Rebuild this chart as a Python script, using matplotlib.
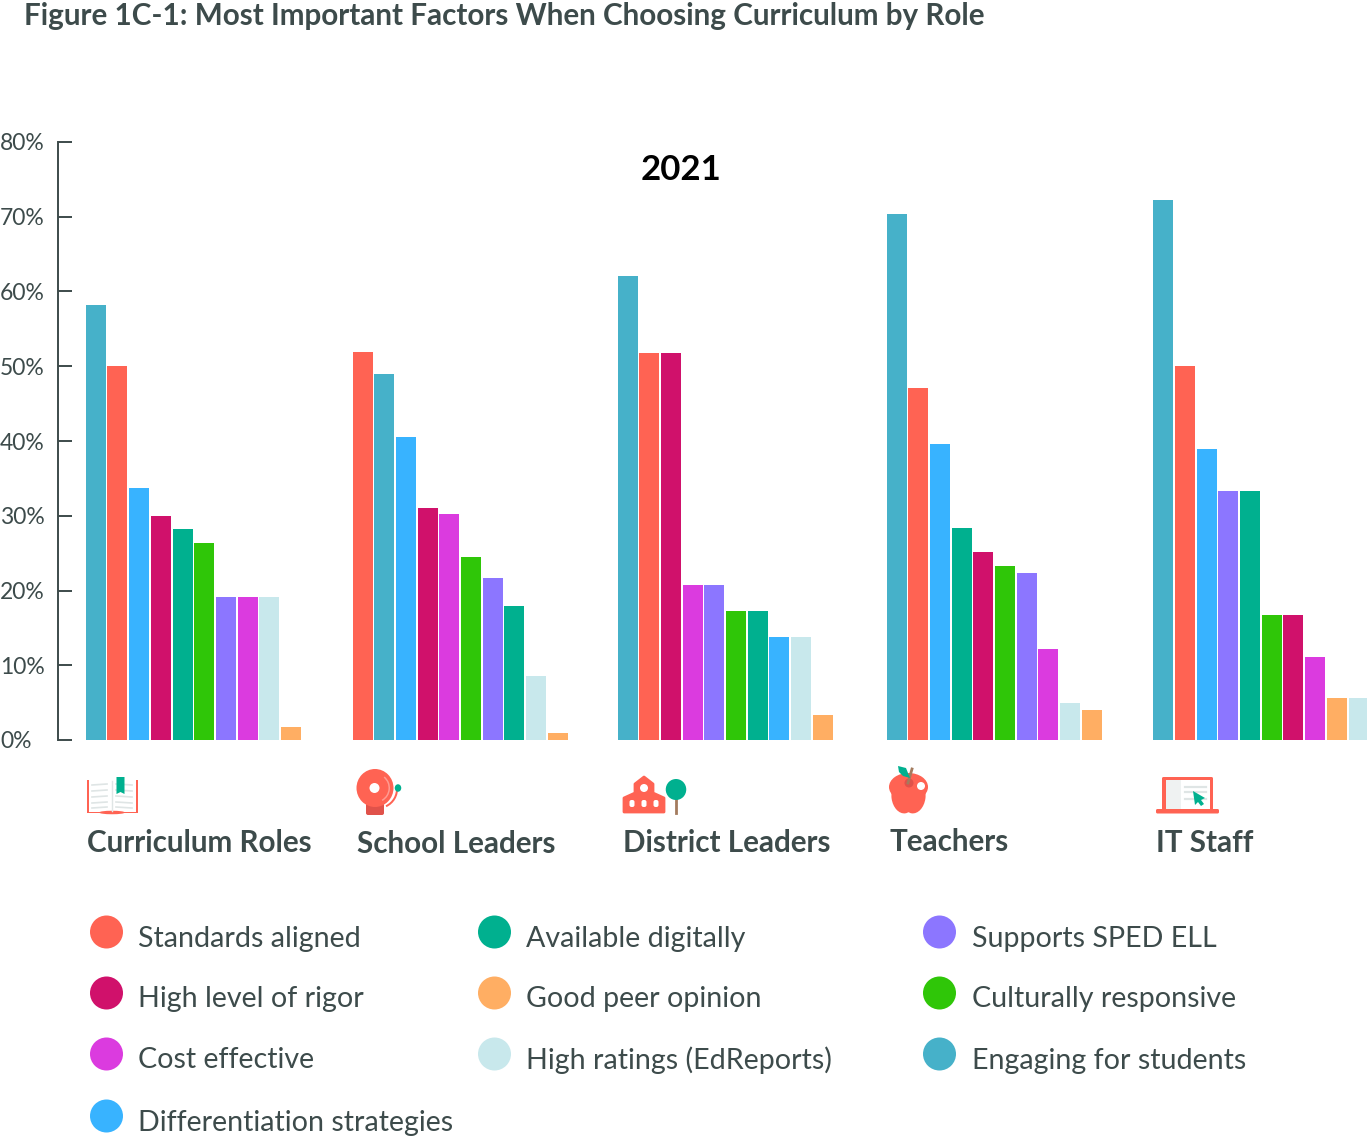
import matplotlib

matplotlib.use("Agg")
import matplotlib.pyplot as plt
from matplotlib.patches import Circle, Ellipse, FancyBboxPatch, Polygon, Rectangle, Wedge

W, H = 1367, 1142
TEXT = "#3d4b4b"

roles = ["Curriculum Roles", "School Leaders", "District Leaders", "Teachers", "IT Staff"]

colors = {
    "Standards aligned": "#ff6353",
    "High level of rigor": "#d0116b",
    "Cost effective": "#db3bdf",
    "Differentiation strategies": "#38b3ff",
    "Available digitally": "#00b08f",
    "Good peer opinion": "#ffae63",
    "High ratings (EdReports)": "#c8e8ec",
    "Supports SPED ELL": "#8c76ff",
    "Culturally responsive": "#2fc608",
    "Engaging for students": "#46b1c9",
}

curriculum_factors = ["Engaging for students", "Standards aligned", "Differentiation strategies",
                      "High level of rigor", "Available digitally", "Culturally responsive",
                      "Supports SPED ELL", "Cost effective", "High ratings (EdReports)", "Good peer opinion"]
curriculum_values = [58.2, 50.0, 33.7, 30.0, 28.2, 26.4, 19.1, 19.1, 19.1, 1.8]

school_factors = ["Standards aligned", "Engaging for students", "Differentiation strategies",
                  "High level of rigor", "Cost effective", "Culturally responsive",
                  "Supports SPED ELL", "Available digitally", "High ratings (EdReports)", "Good peer opinion"]
school_values = [51.9, 49.0, 40.6, 31.1, 30.2, 24.5, 21.7, 17.9, 8.5, 0.9]

district_factors = ["Engaging for students", "Standards aligned", "High level of rigor",
                    "Cost effective", "Supports SPED ELL", "Culturally responsive",
                    "Available digitally", "Differentiation strategies", "High ratings (EdReports)", "Good peer opinion"]
district_values = [62.1, 51.8, 51.8, 20.7, 20.7, 17.2, 17.2, 13.8, 13.8, 3.4]

teacher_factors = ["Engaging for students", "Standards aligned", "Differentiation strategies",
                   "Available digitally", "High level of rigor", "Culturally responsive",
                   "Supports SPED ELL", "Cost effective", "High ratings (EdReports)", "Good peer opinion"]
teacher_values = [70.4, 47.1, 39.6, 28.3, 25.2, 23.3, 22.3, 12.2, 5.0, 4.0]

it_factors = ["Engaging for students", "Standards aligned", "Differentiation strategies",
              "Supports SPED ELL", "Available digitally", "Culturally responsive",
              "High level of rigor", "Cost effective", "Good peer opinion", "High ratings (EdReports)"]
it_values = [72.2, 50.0, 38.9, 33.3, 33.3, 16.7, 16.7, 11.1, 5.6, 5.6]

y_ticks = [0, 10, 20, 30, 40, 50, 60, 70, 80]

# legend is laid out column by column
legend_columns = [
    ["Standards aligned", "High level of rigor", "Cost effective", "Differentiation strategies"],
    ["Available digitally", "Good peer opinion", "High ratings (EdReports)"],
    ["Supports SPED ELL", "Culturally responsive", "Engaging for students"],
]

plt.rcParams["font.family"] = ["Lato", "DejaVu Sans"]

fig = plt.figure(figsize=(W / 100, H / 100), dpi=100)

# overlay in pixel coordinates for icons, labels and legend
page = fig.add_axes([0, 0, 1, 1])
page.set_xlim(0, W)
page.set_ylim(H, 0)
page.axis("off")

# chart axes, x in pixels so the groups sit where the original has them
top, bottom, left = 142, 740, 58
ax = fig.add_axes([left / W, 1 - bottom / H, (W - left) / W, (bottom - top) / H])
ax.patch.set_alpha(0)
ax.set_xlim(left, W)
ax.set_ylim(0, 80)

group_starts = [85.7, 352.5, 617.5, 886.5, 1153.2]
bar_step = 21.7
bar_width = 20

groups = [
    (curriculum_factors, curriculum_values),
    (school_factors, school_values),
    (district_factors, district_values),
    (teacher_factors, teacher_values),
    (it_factors, it_values),
]
for start, (factors, values) in zip(group_starts, groups):
    xs = [start + i * bar_step for i in range(len(values))]
    ax.bar(xs, values, width=bar_width, align="edge", color=[colors[f] for f in factors], linewidth=0)

for side in ["top", "right", "bottom"]:
    ax.spines[side].set_visible(False)
ax.spines["left"].set_color(TEXT)
ax.spines["left"].set_linewidth(1.4)
ax.set_xticks([])
ax.set_yticks(y_ticks)
ax.set_yticklabels([f"{t}%" for t in y_ticks], fontsize=16.5, color=TEXT, ha="left")
ax.tick_params(axis="y", direction="in", length=10, width=1.4, color=TEXT, pad=0)
for label in ax.get_yticklabels():
    label.set_x(-58 / (W - left))

page.text(24, 16, "Figure 1C-1: Most Important Factors When Choosing Curriculum by Role",
          fontsize=21.3, fontweight="bold", color=TEXT, va="center", ha="left")
page.text(681, 170, "2021", fontsize=25, fontweight="bold", color="#000000", va="center", ha="center")

role_label_pos = [(87, 843), (357, 844), (623, 843), (890, 842), (1156, 843)]
for role, (x, y) in zip(roles, role_label_pos):
    page.text(x, y, role, fontsize=21.3, fontweight="bold", color=TEXT, va="center", ha="left")


def draw_book(a):
    # red edges on the sides and bottom only
    a.add_patch(Rectangle((87, 780), 1.5, 33, facecolor="#ff6353", edgecolor="none"))
    a.add_patch(Rectangle((136, 780), 1.5, 33, facecolor="#ff6353", edgecolor="none"))
    a.add_patch(Rectangle((87, 811.5), 50.5, 1.5, facecolor="#ff6353", edgecolor="none"))
    a.add_patch(Ellipse((112, 812.5), 26, 3.5, facecolor="#ff6353", edgecolor="none"))
    a.plot([112, 112], [781, 811], color="#dfe5e5", lw=1)
    for y in [784, 790, 796, 802, 807]:
        a.plot([92, 107], [y + 1, y], color="#dfe5e5", lw=1.2)
        a.plot([116, 132], [y, y + 1], color="#dfe5e5", lw=1.2)
    a.add_patch(Polygon([(116.5, 777), (124.5, 777), (124.5, 794), (120.5, 792), (116.5, 794)],
                        facecolor="#00b08f", edgecolor="none", zorder=3))


def draw_bell(a):
    a.add_patch(Wedge((378, 789), 20, -5, 65, width=2, facecolor="#ff6353", edgecolor="none"))
    a.add_patch(Ellipse((398, 788), 6.5, 7.5, facecolor="#00b08f", edgecolor="none", zorder=3))
    a.add_patch(FancyBboxPatch((366, 803), 18, 12, boxstyle="round,pad=0,rounding_size=2",
                               facecolor="#e0524a", edgecolor="none"))
    a.add_patch(Ellipse((375, 788), 37, 38, facecolor="#ff6353", edgecolor="none", zorder=2))
    a.add_patch(Wedge((375, 788), 15, -50, 60, width=1.5, facecolor="#ff9c92", edgecolor="none", zorder=3))
    a.add_patch(Circle((374.5, 788), 5, facecolor="#ffffff", edgecolor="none", zorder=3))


def draw_school(a):
    a.add_patch(Polygon([(624, 812), (624, 798), (635, 793), (635, 784), (644, 777), (653, 784),
                         (653, 793), (664, 798), (664, 812)], facecolor="#ff6353", edgecolor="#ff6353",
                        lw=2, joinstyle="round"))
    a.add_patch(Circle((644, 788), 4, facecolor="#ffffff", edgecolor="none", zorder=3))
    for x in [632, 644, 656]:
        a.add_patch(FancyBboxPatch((x - 2.5, 800), 5, 7, boxstyle="round,pad=0,rounding_size=2",
                                   facecolor="#ffffff", edgecolor="none", zorder=3))
    a.plot([676, 676], [795, 813], color="#a37b5e", lw=2)
    a.add_patch(Ellipse((676, 789.5), 20.5, 21, facecolor="#00b08f", edgecolor="none", zorder=3))


def draw_apple(a):
    a.add_patch(Ellipse((908.5, 787), 39, 28, facecolor="#ff6353", edgecolor="none"))
    a.add_patch(Ellipse((903, 797), 23, 33, facecolor="#ff6353", edgecolor="none", angle=-8))
    a.add_patch(Ellipse((914, 797), 23, 33, facecolor="#ff6353", edgecolor="none", angle=8))
    a.add_patch(Circle((909, 783), 4.5, facecolor="#e0524a", edgecolor="none", zorder=3))
    a.plot([908, 912, ], [783, 769], color="#a37b5e", lw=2, zorder=4)
    a.add_patch(Polygon([(898, 766), (906, 768), (910, 778), (903, 776), (899, 772)],
                        facecolor="#00b08f", edgecolor="none", zorder=4))
    a.add_patch(Ellipse((921, 786), 8, 8, facecolor="#ffffff", edgecolor="none", zorder=3))


def draw_laptop(a):
    a.add_patch(FancyBboxPatch((1162, 777), 51, 33, boxstyle="round,pad=0,rounding_size=1.5",
                               facecolor="#ff6353", edgecolor="none"))
    a.add_patch(Rectangle((1165.5, 780), 44.5, 29, facecolor="#ffffff", edgecolor="none"))
    a.add_patch(Rectangle((1165.5, 780), 15.5, 29, facecolor="#eff2f2", edgecolor="none"))
    for y in [787, 792, 799]:
        a.plot([1185, 1206], [y, y], color="#dfe5e5", lw=1.6)
    a.add_patch(Polygon([(1193, 791), (1205, 798), (1201, 800), (1204, 804), (1201, 806),
                         (1198, 802), (1195, 805)], facecolor="#00b08f", edgecolor="none", zorder=3))
    a.add_patch(FancyBboxPatch((1156, 809), 63, 4.5, boxstyle="round,pad=0,rounding_size=1.5",
                               facecolor="#ff6353", edgecolor="none"))


for draw in [draw_book, draw_bell, draw_school, draw_apple, draw_laptop]:
    draw(page)

legend_x = [106.5, 494.5, 939.5]
legend_y = [932, 993, 1054, 1116]
for x, column in zip(legend_x, legend_columns):
    for y, name in zip(legend_y, column):
        page.add_patch(Circle((x, y), 16.5, facecolor=colors[name], edgecolor="none"))
        page.text(x + 32, y + 6.5, name, fontsize=20.6, color=TEXT, va="center", ha="left")

fig.savefig("out.png", dpi=100)
